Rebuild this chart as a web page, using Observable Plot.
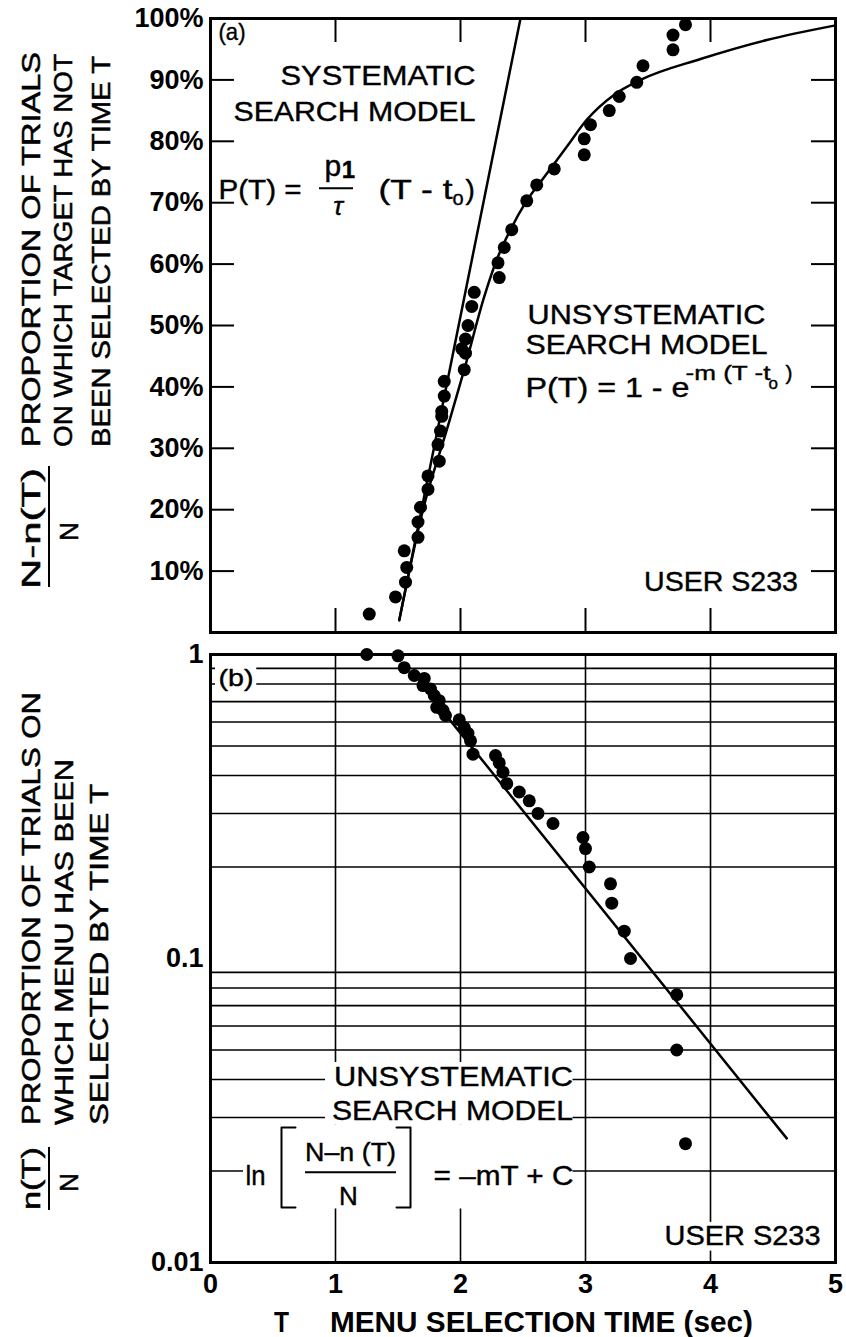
<!DOCTYPE html>
<html><head><meta charset="utf-8">
<script src="https://cdn.jsdelivr.net/npm/d3@7"></script>
<script src="https://cdn.jsdelivr.net/npm/@observablehq/plot@0.6"></script>
<style>
body{margin:0;background:#fff;}
#chart{position:relative;width:846px;height:1337px;background:#fff;}
#chart svg{position:absolute;left:0;display:block;overflow:visible;}
</style></head><body><div id="chart"></div>
<script>
// ---------- data ----------
const timeTicks = [0, 1, 2, 3, 4, 5];
const timeTickLabels = ["0", "1", "2", "3", "4", "5"];
const innerTimeTicks = [1, 2, 3, 4];
const pctTicks = [0.1, 0.2, 0.3, 0.4, 0.5, 0.6, 0.7, 0.8, 0.9, 1.0];
const pctTickLabels = ["10%", "20%", "30%", "40%", "50%", "60%", "70%", "80%", "90%", "100%"];
const pctInnerTicks = [0.1, 0.2, 0.3, 0.4, 0.5, 0.6, 0.7, 0.8, 0.9];

// panel (a) observed points
const topT = [3.80, 3.70, 3.70, 3.46, 3.41, 3.27, 3.19, 3.04, 2.99, 2.99, 2.75, 2.61, 2.53, 2.41, 2.35, 2.30, 2.31, 2.11,
              2.09, 2.06, 2.04, 2.01, 2.04, 2.03, 1.87, 1.87, 1.85, 1.85, 1.84, 1.82, 1.83, 1.74, 1.74, 1.68, 1.66, 1.66,
              1.55, 1.57, 1.56, 1.48, 1.27];
const topP = [0.990, 0.973, 0.949, 0.923, 0.896, 0.873, 0.850, 0.827, 0.804, 0.778, 0.755, 0.729, 0.703, 0.656, 0.627, 0.602, 0.578, 0.554,
              0.531, 0.500, 0.478, 0.462, 0.455, 0.428, 0.409, 0.385, 0.360, 0.352, 0.328, 0.306, 0.279, 0.255, 0.233, 0.204, 0.180, 0.155,
              0.133, 0.106, 0.082, 0.058, 0.030];
// systematic model line
const sysT = [1.51, 2.48];
const sysP = [0.02, 1.0];
// unsystematic model curve
const unsysT = [1.51, 1.70, 1.89, 2.03, 2.19, 2.29, 2.40, 2.52, 2.67, 2.85, 3.01, 3.23, 3.44, 3.92, 4.45, 4.98];
const unsysP = [0.02, 0.20, 0.33, 0.428, 0.547, 0.607, 0.656, 0.700, 0.742, 0.791, 0.835, 0.876, 0.900, 0.934, 0.965, 0.988];

// panel (b)
const logTicks = [1, 0.1, 0.01];
const logTickLabels = ["1", "0.1", "0.01"];
const logGrid = [0.9, 0.8, 0.7, 0.6, 0.5, 0.4, 0.3, 0.2, 0.09, 0.08, 0.07, 0.06, 0.05, 0.04, 0.03, 0.02];
const botT = [1.25, 1.50, 1.55, 1.63, 1.71, 1.70, 1.76, 1.79, 1.83, 1.81, 1.86, 1.88, 1.99, 2.03, 2.06, 2.08, 2.10,
              2.28, 2.31, 2.34, 2.37, 2.47, 2.55, 2.62, 2.74, 2.98, 3.00, 3.03, 3.20, 3.21, 3.31, 3.36, 3.73, 3.73, 3.80];
const botV = [1.0, 0.99, 0.905, 0.853, 0.834, 0.79, 0.77, 0.733, 0.705, 0.67, 0.655, 0.63, 0.61, 0.575, 0.55, 0.52, 0.47,
              0.465, 0.44, 0.41, 0.376, 0.353, 0.33, 0.30, 0.278, 0.25, 0.23, 0.20, 0.176, 0.152, 0.123, 0.10, 0.076, 0.050, 0.0246];
const fitT = [1.90, 4.61];
const fitV = [0.62, 0.0256];

// ---------- layout ----------
const W = 846, ML = 210, MR = 11;
const SANS = '"Liberation Sans",Arial,"DejaVu Sans",sans-serif';
const frameW = W - ML - MR;

const zip = (xs, ys) => xs.map((x, i) => ({x, y: ys[i]}));
const labelOf = (vals, labels) => { const m = new Map(vals.map((v, i) => [v, labels[i]])); return d => m.get(d); };

function ann(x, y, text, o = {}) {
  return Plot.text([{x, y, text}], {x: "x", y: "y", text: "text", fontFamily: SANS, fontSize: 28,
    fill: "black", stroke: "black", strokeWidth: 0.4, lineAnchor: "middle", textAnchor: "start", ...o});
}

// ---------- panel (a) ----------
const topH = 640, topMT = 18, topMB = 8;
const topFrameH = topH - topMT - topMB;
const topPlot = Plot.plot({
  width: W, height: topH, marginLeft: ML, marginRight: MR, marginTop: topMT, marginBottom: topMB,
  style: {background: "white", color: "black", overflow: "visible"},
  x: {domain: [0, 5], axis: null},
  y: {domain: [0, 1], axis: null},
  marks: [
    Plot.axisY(pctTicks, {tickSize: 0, tickPadding: 7, tickFormat: labelOf(pctTicks, pctTickLabels),
      fontSize: 27, fontWeight: "bold", fontFamily: SANS, label: null}),
    Plot.tickY(pctInnerTicks, {y: d => d, insetRight: frameW - 24, strokeWidth: 2}),
    Plot.tickY(pctInnerTicks, {y: d => d, insetLeft: frameW - 24, strokeWidth: 2}),
    Plot.tickX(innerTimeTicks, {x: d => d, insetBottom: topFrameH - 24, strokeWidth: 2}),
    Plot.tickX(innerTimeTicks, {x: d => d, insetTop: topFrameH - 24, strokeWidth: 2}),
    Plot.frame({stroke: "black", strokeWidth: 3}),
    Plot.line(zip(sysT, sysP), {x: "x", y: "y", stroke: "black", strokeWidth: 2.5}),
    Plot.line(zip(unsysT, unsysP), {x: "x", y: "y", stroke: "black", strokeWidth: 2.5, curve: "monotone-x"}),
    Plot.dot(zip(topT, topP), {x: "x", y: "y", r: 6.5, fill: "black", stroke: null}),
    ann(0.064, 0.977, "(a)", {fontSize: 24}),
    ann(2.12, 0.906, "SYSTEMATIC", {textAnchor: "end"}),
    ann(2.12, 0.847, "SEARCH MODEL", {textAnchor: "end"}),
    ann(0.064, 0.720, "P(T) =", {fontSize: 28}),
    ann(0.912, 0.759, "p", {fontSize: 30}),
    ann(1.05, 0.752, "1", {fontSize: 24, fontWeight: "bold"}),
    Plot.ruleY([0.7234], {x1: 0.872, x2: 1.144, stroke: "black", strokeWidth: 2}),
    ann(1.02, 0.694, "τ", {fontSize: 26, fontStyle: "italic", textAnchor: "middle"}),
    ann(1.344, 0.720, "(T - t", {fontSize: 28}),
    ann(1.936, 0.706, "o", {fontSize: 20}),
    ann(2.04, 0.720, ")", {fontSize: 28}),
    ann(2.536, 0.517, "UNSYSTEMATIC"),
    ann(2.52, 0.468, "SEARCH MODEL"),
    ann(2.52, 0.398, "P(T) = 1 - e", {fontSize: 28}),
    ann(3.80, 0.4223, "-m (T -t", {fontSize: 21}),
    ann(4.464, 0.406, "o", {fontSize: 17}),
    ann(4.60, 0.4223, ")", {fontSize: 21}),
    ann(4.70, 0.082, "USER S233", {textAnchor: "end"})
  ]
});

// ---------- panel (b) ----------
const botH = 697, botMT = 14, botMB = 75;
const whiteBoxes = [
  {x1: 0.92, x2: 2.90, y1: 0.0284, y2: 0.0455},
  {x1: 0.264, x2: 2.90, y1: 0.0150, y2: 0.0284},
  {x1: 3.56, x2: 4.96, y1: 0.0109, y2: 0.01355},
  {x1: 0.04, x2: 0.37, y1: 0.76, y2: 0.93}
];
const botPlot = Plot.plot({
  width: W, height: botH, marginLeft: ML, marginRight: MR, marginTop: botMT, marginBottom: botMB,
  style: {background: "white", color: "black", overflow: "visible"},
  x: {domain: [0, 5]},
  y: {type: "log", domain: [0.01, 1]},
  marks: [
    Plot.ruleY(logGrid, {y: d => d, stroke: "black", strokeWidth: 1.6}),
    Plot.ruleX(innerTimeTicks, {x: d => d, stroke: "black", strokeWidth: 1.6}),
    Plot.rect(whiteBoxes, {x1: "x1", x2: "x2", y1: "y1", y2: "y2", fill: "white"}),
    Plot.axisY(logTicks, {tickSize: 0, tickPadding: 7, tickFormat: labelOf(logTicks, logTickLabels),
      fontSize: 27, fontWeight: "bold", fontFamily: SANS, label: null}),
    Plot.axisX(timeTicks, {tickSize: 0, tickPadding: 11, tickFormat: labelOf(timeTicks, timeTickLabels),
      fontSize: 27, fontWeight: "bold", fontFamily: SANS, label: null}),
    Plot.frame({stroke: "black", strokeWidth: 3}),
    Plot.line(zip(fitT, fitV), {x: "x", y: "y", stroke: "black", strokeWidth: 2.5}),
    Plot.dot(zip(botT, botV), {x: "x", y: "y", r: 6.5, fill: "black", stroke: null}),
    ann(0.064, 0.834, "(b)", {fontSize: 24}),
    ann(1.944, 0.0406, "UNSYSTEMATIC", {textAnchor: "middle"}),
    ann(1.936, 0.0314, "SEARCH MODEL", {textAnchor: "middle"}),
    ann(0.28, 0.0193, "ln"),
    Plot.line([{x: 0.68, y: 0.0278}, {x: 0.568, y: 0.0278}, {x: 0.568, y: 0.01517}, {x: 0.68, y: 0.01517}],
      {x: "x", y: "y", stroke: "black", strokeWidth: 2}),
    Plot.line([{x: 1.488, y: 0.0278}, {x: 1.6, y: 0.0278}, {x: 1.6, y: 0.01517}, {x: 1.488, y: 0.01517}],
      {x: "x", y: "y", stroke: "black", strokeWidth: 2}),
    ann(1.12, 0.0229, "N\u2013n (T)", {textAnchor: "middle", fontSize: 26}),
    Plot.ruleY([0.0198], {x1: 0.76, x2: 1.488, stroke: "black", strokeWidth: 2}),
    ann(1.104, 0.0165, "N", {textAnchor: "middle", fontSize: 26}),
    ann(1.784, 0.0193, "= \u2013mT + C"),
    ann(4.88, 0.0122, "USER S233", {textAnchor: "end"})
  ]
});

// ---------- condensed text fitting ----------
function fitTexts(svg, widths) {
  d3.select(svg).selectAll("text").each(function () {
    const t = this.textContent;
    if (widths[t]) {
      d3.select(this).attr("textLength", widths[t]).attr("lengthAdjust", "spacingAndGlyphs");
    }
  });
}
fitTexts(topPlot, {"SYSTEMATIC": 195, "SEARCH MODEL": 242, "UNSYSTEMATIC": 238, "P(T) = 1 - e": 164,
  "USER S233": 154, "P(T) =": 83, "(T - t": 74, "-m (T -t": 85, "(a)": 27});
fitTexts(botPlot, {"UNSYSTEMATIC": 239, "SEARCH MODEL": 241, "= \u2013mT + C": 140, "USER S233": 156,
  "N\u2013n (T)": 91, "(b)": 35, "ln": 20});

// ---------- rotated axis titles ----------
function vtext(svg, x, yStart, str, len, size = 25, weight = "normal") {
  d3.select(svg).append("text")
    .attr("transform", `translate(${x},${yStart}) rotate(-90)`)
    .attr("dy", "0.36em")
    .attr("font-family", SANS).attr("font-size", size).attr("font-weight", weight)
    .attr("fill", "black").attr("stroke", "black").attr("stroke-width", 0.5).attr("text-anchor", "start")
    .attr("textLength", len).attr("lengthAdjust", "spacingAndGlyphs")
    .text(str);
}
function vrule(svg, x, y1, y2) {
  d3.select(svg).append("line").attr("x1", x).attr("x2", x).attr("y1", y1).attr("y2", y2)
    .attr("stroke", "black").attr("stroke-width", 2);
}
// top
vtext(topPlot, 31, 447, "PROPORTION OF TRIALS", 395);
vtext(topPlot, 63, 447, "ON WHICH TARGET HAS NOT", 393);
vtext(topPlot, 101, 447, "BEEN SELECTED BY TIME T", 391);
vtext(topPlot, 31, 589, "N-n(T)", 121);
vrule(topPlot, 49, 466, 587);
vtext(topPlot, 69, 541, "N", 19);
// bottom (local y = page y - 640)
const off = 640;
vtext(botPlot, 31, 1125 - off, "PROPORTION OF TRIALS ON", 433);
vtext(botPlot, 64, 1125 - off, "WHICH MENU HAS BEEN", 366);
vtext(botPlot, 99, 1125 - off, "SELECTED BY TIME T", 341);
vtext(botPlot, 31, 1210 - off, "n(T)", 63);
vrule(botPlot, 49, 1147 - off, 1210 - off);
vtext(botPlot, 69, 1192 - off, "N", 19);
// x title
d3.select(botPlot).append("text").attr("x", 274).attr("y", 1322 - off).attr("dy", "0.36em")
  .attr("text-anchor", "start").attr("fill", "black")
  .attr("font-family", SANS).attr("font-size", 29).attr("font-weight", "bold")
  .attr("textLength", 15).attr("lengthAdjust", "spacingAndGlyphs").text("T");
d3.select(botPlot).append("text").attr("x", 330).attr("y", 1322 - off).attr("dy", "0.36em")
  .attr("text-anchor", "start").attr("fill", "black")
  .attr("font-family", SANS).attr("font-size", 29).attr("font-weight", "bold")
  .attr("textLength", 423).attr("lengthAdjust", "spacingAndGlyphs").text("MENU SELECTION TIME (sec)");

const chart = document.getElementById("chart");
topPlot.style.top = "0px";
botPlot.style.top = off + "px";
chart.appendChild(topPlot);
chart.appendChild(botPlot);
</script></body></html>
